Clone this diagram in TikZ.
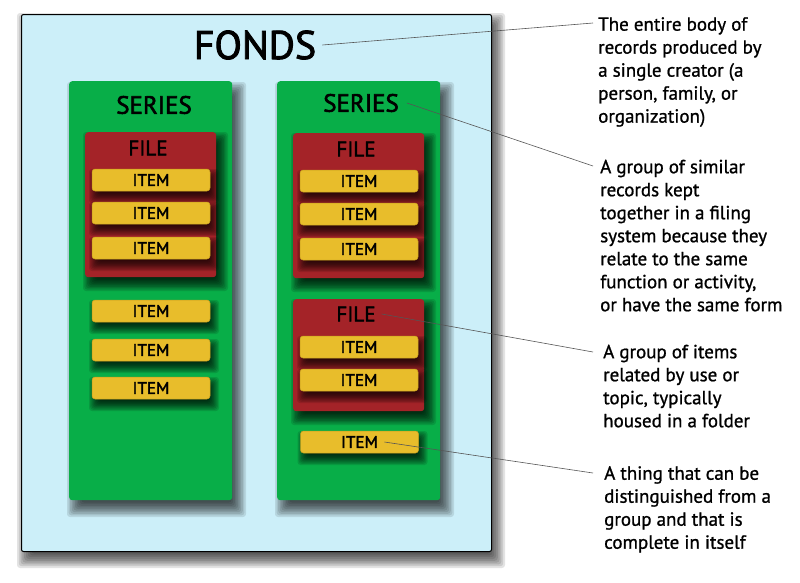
\documentclass[tikz,border=0pt]{standalone}
\usepackage{fontspec}
\setmainfont{PT Sans}
\newfontfamily\lblfont{PT Sans}[FakeBold=2.2]
\newfontfamily\descfont{PT Sans}[FakeBold=1.0]
\definecolor{fondsbg}{RGB}{204,239,249}
\definecolor{seriesgreen}{RGB}{8,174,72}
\definecolor{filered}{RGB}{164,35,40}
\definecolor{itemyellow}{RGB}{232,189,43}
\definecolor{itemedge}{RGB}{200,158,30}
\definecolor{connline}{RGB}{85,85,85}
% soft shadow: x1,y1,x2,y2 (box), dx, dy, blur, per-layer opacity
\newcommand{\softshade}[8]{%
  \foreach \ssk in {0,...,9}{%
    \pgfmathsetmacro{\sse}{#7*(1-\ssk/5)}%
    \fill[black, opacity=#8, rounded corners=3pt]
      ({#1+#5-\sse},{#2+#6-\sse}) rectangle ({#3+#5+\sse},{#4+#6+\sse});
  }}
\tikzset{
  fondsbox/.style={rectangle, rounded corners=2pt, draw=black, line width=1pt, fill=fondsbg, inner sep=0pt, anchor=north west},
  seriesbox/.style={rectangle, rounded corners=3pt, fill=seriesgreen, inner sep=0pt, anchor=north west, minimum width=163pt, minimum height=419pt},
  filebox/.style={rectangle, rounded corners=3pt, fill=filered, inner sep=0pt, anchor=north west, minimum width=131pt},
  itembox/.style={rectangle, rounded corners=3pt, draw=itemedge, line width=0.5pt, fill=itemyellow, inner sep=0pt,
    minimum width=118pt, minimum height=22pt, font=\lblfont\fontsize{17}{17}\selectfont},
  titlelbl/.style={inner sep=6pt, font=\lblfont\fontsize{40}{40}\selectfont},
  serieslbl/.style={inner sep=8pt, font=\lblfont\fontsize{25}{25}\selectfont},
  filelbl/.style={inner sep=6pt, font=\lblfont\fontsize{21}{21}\selectfont},
  desc/.style={anchor=north west, inner sep=0pt, align=left, font=\descfont\fontsize{19}{23}\selectfont},
  conn/.style={draw=connline, line width=0.6pt}
}
\begin{document}
\begin{tikzpicture}[x=1pt,y=-1pt]
\path[use as bounding box, fill=white] (0,0) rectangle (800,582);

% fonds
\softshade{21}{14}{491}{551}{5}{8}{9}{0.11}
\node[fondsbox, minimum width=470pt, minimum height=537pt] (fonds) at (21,14) {};
\node[titlelbl] (fondsT) at (255,45) {FONDS};

% series
\softshade{69}{81}{232}{500}{6}{9}{8}{0.10}
\softshade{277}{81}{440}{500}{6}{9}{8}{0.10}
\node[seriesbox] (s1) at (69,81) {};
\node[seriesbox] (s2) at (277,81) {};
\node[serieslbl] (s1T) at (154,105) {SERIES};
\node[serieslbl] (s2T) at (361,103) {SERIES};

% files
\softshade{85}{132}{216}{277}{5}{7}{7}{0.12}
\softshade{293}{133}{424}{278}{5}{7}{7}{0.12}
\softshade{293}{299}{424}{411}{5}{7}{7}{0.12}
\node[filebox, minimum height=145pt] (f1) at (85,132) {};
\node[filebox, minimum height=145pt] (f2) at (293,133) {};
\node[filebox, minimum height=112pt] (f3) at (293,299) {};
\node[filelbl] (f1T) at (148,148) {FILE};
\node[filelbl] (f2T) at (356,149) {FILE};
\node[filelbl] (f3T) at (356,314) {FILE};

% items
\foreach \cx/\cy in {151/180,151/213,151/248,151/311,151/350,151/388,359/181,359/214,359/249,359/347,359/380,359.5/442}{
  \softshade{\cx-59}{\cy-11}{\cx+59}{\cy+11}{3}{6}{6}{0.12}
}
\foreach \n/\cx/\cy in {i1/151/180,i2/151/213,i3/151/248,i4/151/311,i5/151/350,i6/151/388,i7/359/181,i8/359/214,i9/359/249,i10/359/347,i11/359/380,i12/359.5/442}{
  \node[itembox] (\n) at (\cx,\cy) {ITEM};
}

% descriptions
\node[desc] (d1) at (598,17) {The entire body of\\records produced by\\a single creator (a\\person, family, or\\organization)};
\node[desc] (d2) at (600,159.5) {A group of similar\\records kept\\together in a filing\\system because they\\relate to the same\\function or activity,\\or have the same form};
\node[desc] (d3) at (603,344.5) {A group of items\\related by use or\\topic, typically\\housed in a folder};
\node[desc] (d4) at (604,466) {A thing that can be\\distinguished from a\\group and that is\\complete in itself};

\coordinate (e1) at ([shift={(-5pt,-6pt)}]d1.north west);
\coordinate (e2) at ([shift={(-7pt,-6.5pt)}]d2.north west);
\coordinate (e3) at ([shift={(-10pt,-7.5pt)}]d3.north west);
\coordinate (e4) at ([shift={(-11pt,-7pt)}]d4.north west);
\coordinate (i12s) at ([xshift=25pt]i12.center);

% connectors
\draw[conn] (fondsT.east) -- (e1);
\draw[conn] (s2T.east) -- (e2);
\draw[conn] (f3T.east) -- (e3);
\draw[conn] (i12s) -- (e4);
\end{tikzpicture}
\end{document}
